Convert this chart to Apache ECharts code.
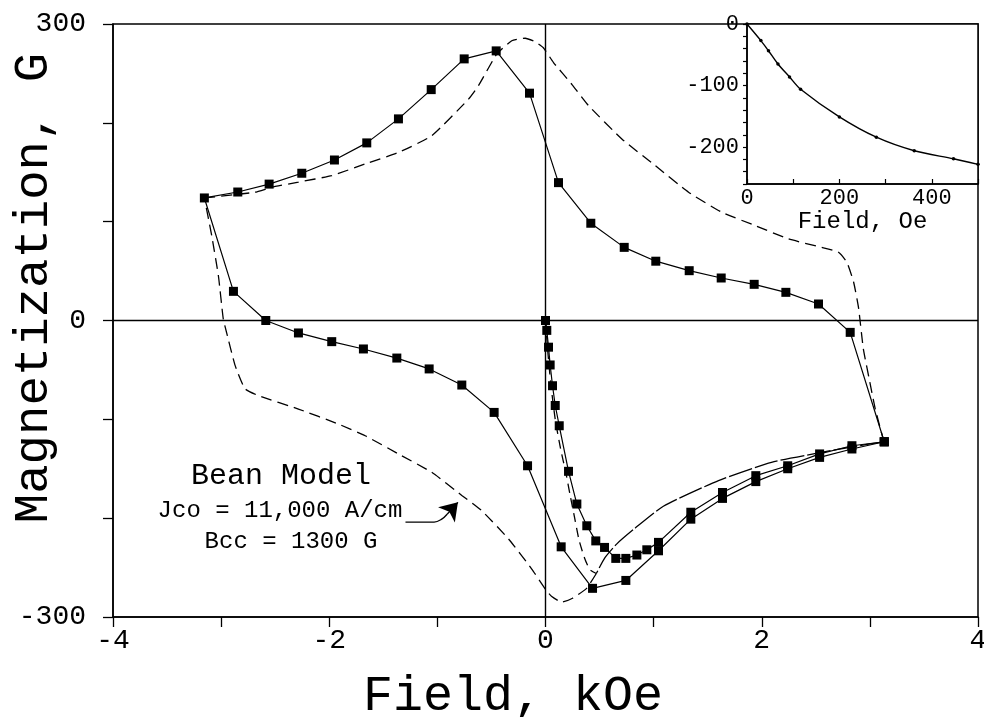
<!DOCTYPE html>
<html>
<head>
<meta charset="utf-8">
<script src="https://cdn.jsdelivr.net/npm/echarts@6/dist/echarts.min.js"></script>
<style>
  html, body { margin: 0; padding: 0; background: #fff; }
  #chart { width: 984px; height: 717px; }
</style>
</head>
<body>
<div id="chart"></div>
<script>
// Hysteresis loop, measured (field in kOe, magnetization in G),
// traversed from +H max down the return branch and back.
const loopField = [3.133, 2.818, 2.525, 2.223, 1.93, 1.625, 1.329, 1.02, 0.728, 0.419, 0.12,
  -0.148, -0.456, -0.752, -1.057, -1.36, -1.653, -1.952, -2.254, -2.556, -2.846, -3.155,
  -2.886, -2.587, -2.285, -1.977, -1.684, -1.375, -1.076, -0.774, -0.475, -0.166,
  0.145, 0.435, 0.743, 1.045, 1.344, 1.637, 1.945, 2.24, 2.535, 2.834, 3.133];
const loopMag = [-122.7, -12, 16.7, 28.5, 36.6, 43, 50.4, 60, 74, 98.4, 139.5,
  230, 272.8, 264.7, 233.6, 204, 179.7, 162.4, 149, 138, 130, 124,
  29.5, 0, -12.6, -21.4, -28.8, -38, -49, -65.3, -93, -147,
  -229, -271, -263, -233, -201, -180, -163, -150, -138.5, -130, -122.7];

// Virgin magnetization curve, measured
const virginField = [0, 0.012, 0.028, 0.043, 0.065, 0.09, 0.127, 0.213, 0.29, 0.382, 0.465, 0.546,
  0.65, 0.743, 0.845, 0.937, 1.045, 1.344, 1.637, 1.945, 2.24, 2.535, 2.834, 3.133];
const virginMag = [0, -10, -27, -45, -66, -86, -106.5, -152.6, -185.7, -207.7, -223, -229.6,
  -240.7, -240.7, -237.3, -232, -224.5, -194, -174, -157, -147, -135, -126.7, -122.7];

// Bean critical-state model, decreasing-field branch
const beanUpperField = [-3.155, -2.686, -2.532, -2.285, -1.977, -1.668, -1.36, -1.052, -0.712, -0.62,
  -0.45, -0.312, -0.188, -0.095, -0.02, 0.074, 0.243, 0.398, 0.706, 1.015, 1.323, 1.631, 1.94,
  2.248, 2.556, 2.71, 2.787, 2.85, 2.895, 2.94, 3.0, 3.05, 3.13];
const beanUpperMag = [124, 129.8, 134.8, 140, 146.6, 158.4, 170, 187, 224, 237.6,
  269.7, 283, 285.6, 282, 276, 261, 239, 217.4, 183.7, 156.7, 129.8, 109.5, 96,
  82.5, 74, 69, 59, 38.7, 13, -29, -62.5, -89.6, -122.7];

// Bean model, increasing-field branch (high-field part)
const beanReturnField = [3.13, 2.83, 2.525, 2.09, 1.6, 1.09, 0.83, 0.66, 0.55, 0.47];
const beanReturnMag = [-122.7, -128, -134, -143.5, -162, -188, -210, -226, -240, -256];

// Bean model, increasing-field branch (low-field part)
const beanLowerField = [0.47, 0.38, 0.25, 0.15, 0.055, 0, -0.127, -0.342, -0.589, -0.774, -1.052,
  -1.36, -1.668, -1.915, -2.285, -2.655, -2.78, -2.87, -2.95, -2.98, -3.025, -3.087, -3.155];
const beanLowerMag = [-256, -271, -281, -285, -279, -272, -251.5, -221, -192.5, -177, -153.6,
  -135, -116.6, -104.8, -89.6, -76, -69, -45.7, -12, 1.5, 45, 85.8, 124];

// Bean model, virgin curve
const beanVirginField = [0, 0.02, 0.05, 0.09, 0.14, 0.19, 0.23, 0.27, 0.31, 0.36, 0.41, 0.47];
const beanVirginMag = [0, -30, -65, -100, -130, -155, -178, -200, -222, -240, -252, -256];

// Low-field initial curve (inset): field in Oe, magnetization in G
const insetField = [0, 30, 46.5, 67, 92, 116, 200, 280, 362, 447, 500];
const insetMag = [0, -27, -43.5, -65, -86, -106, -151, -184, -206, -219, -228];

// Labelled ticks
const fieldTickLabels = [-4, -2, 0, 2, 4];
const magTickLabels = [-300, 0, 300];
const insetFieldTickLabels = [0, 200, 400];
const insetMagTickLabels = [0, -100, -200];

const FONT = '"Liberation Mono", "DejaVu Sans Mono", monospace';
const INK = '#000';
const zip = (xs, ys) => xs.map((x, i) => [x, ys[i]]);
const pick = list => v => (list.indexOf(Math.round(v)) >= 0 ? String(Math.round(v)) : '');

const chart = echarts.init(document.getElementById('chart'), null, { renderer: 'canvas' });

const solid = { color: INK, width: 1.2 };
const dashed = { color: INK, width: 1.3, type: [11, 6] };
const centred = { fill: INK, align: 'center', verticalAlign: 'middle', textAlign: 'center', textVerticalAlign: 'middle' };

const option = {
  animation: false,
  backgroundColor: '#fff',
  grid: [
    { left: 113, right: 6, top: 24, bottom: 100, containLabel: false, outerBoundsMode: 'none',
      show: true, borderColor: INK, borderWidth: 1.5, backgroundColor: 'transparent' },
    { left: 747, right: 6, top: 24, height: 160, containLabel: false, outerBoundsMode: 'none',
      show: true, borderColor: INK, borderWidth: 1.5, backgroundColor: '#fff' }
  ],
  xAxis: [
    {
      gridIndex: 0, type: 'value', min: -4, max: 4, interval: 1,
      axisLine: { onZero: false, lineStyle: { color: INK, width: 1.5 } },
      axisTick: { inside: false, length: 10, lineStyle: { color: INK, width: 1.3 } },
      splitLine: { show: false },
      axisLabel: { formatter: pick(fieldTickLabels), fontFamily: FONT, fontSize: 28, color: INK, margin: 10, showMinLabel: true, showMaxLabel: true }
    },
    {
      gridIndex: 1, type: 'value', min: 0, max: 500, interval: 100,
      axisLine: { onZero: false, lineStyle: { color: INK, width: 1.5 } },
      axisTick: { inside: true, length: 5, lineStyle: { color: INK, width: 1.2 } },
      splitLine: { show: false },
      axisLabel: { formatter: pick(insetFieldTickLabels), fontFamily: FONT, fontSize: 22, color: INK, margin: 3, showMinLabel: true },
      name: 'Field, Oe', nameLocation: 'middle', nameGap: 22,
      nameTextStyle: { fontFamily: FONT, fontSize: 24, color: INK }
    }
  ],
  yAxis: [
    {
      gridIndex: 0, type: 'value', min: -300, max: 300, interval: 100,
      axisLine: { onZero: false, lineStyle: { color: INK, width: 1.5 } },
      axisTick: { inside: false, length: 10, lineStyle: { color: INK, width: 1.3 } },
      splitLine: { show: false },
      axisLabel: { formatter: pick(magTickLabels), fontFamily: FONT, fontSize: 28, color: INK, margin: 27, showMinLabel: true, showMaxLabel: true }
    },
    {
      gridIndex: 1, type: 'value', min: -260, max: 0, interval: 20,
      axisLine: { onZero: false, lineStyle: { color: INK, width: 1.5 } },
      axisTick: { inside: false, length: 4, lineStyle: { color: INK, width: 1.2 } },
      splitLine: { show: false },
      axisLabel: { formatter: pick(insetMagTickLabels), fontFamily: FONT, fontSize: 22, color: INK, margin: 8, showMaxLabel: true }
    }
  ],
  series: [
    {
      name: 'loop', type: 'line', xAxisIndex: 0, yAxisIndex: 0,
      data: zip(loopField, loopMag),
      symbol: 'rect', symbolSize: 9, itemStyle: { color: INK }, lineStyle: solid,
      z: 4,
      markLine: {
        silent: true, symbol: ['none', 'none'],
        label: { show: false },
        lineStyle: { color: INK, width: 1.4, type: 'solid' },
        data: [{ xAxis: 0 }, { yAxis: 0 }]
      }
    },
    {
      name: 'virgin', type: 'line', xAxisIndex: 0, yAxisIndex: 0,
      data: zip(virginField, virginMag),
      symbol: 'rect', symbolSize: 9, itemStyle: { color: INK }, lineStyle: solid, z: 4
    },
    {
      name: 'beanUpper', type: 'line', xAxisIndex: 0, yAxisIndex: 0,
      data: zip(beanUpperField, beanUpperMag), smooth: 0.15,
      symbol: 'none', lineStyle: dashed, z: 3
    },
    {
      name: 'beanReturn', type: 'line', xAxisIndex: 0, yAxisIndex: 0,
      data: zip(beanReturnField, beanReturnMag), smooth: 0.2,
      symbol: 'none', lineStyle: { color: INK, width: 1.3, type: [24, 3] }, z: 3
    },
    {
      name: 'beanLower', type: 'line', xAxisIndex: 0, yAxisIndex: 0,
      data: zip(beanLowerField, beanLowerMag), smooth: 0.15,
      symbol: 'none', lineStyle: dashed, z: 3
    },
    {
      name: 'beanVirgin', type: 'line', xAxisIndex: 0, yAxisIndex: 0,
      data: zip(beanVirginField, beanVirginMag), smooth: 0.2,
      symbol: 'none', lineStyle: { color: INK, width: 1.3, type: [9, 6] }, z: 3
    },
    {
      // leader from the Bean-model caption to the model curve
      name: 'leader', type: 'line', xAxisIndex: 0, yAxisIndex: 0,
      data: [[-1.295, -204], [-1.03, -204], [-0.96, -201], [-0.91, -196]], smooth: 0.4,
      symbol: 'none', lineStyle: { color: INK, width: 1.3 }, z: 3,
      markLine: {
        silent: true, symbol: ['none', 'arrow'], symbolSize: 17,
        label: { show: false },
        lineStyle: { color: INK, width: 1.3, type: 'solid' },
        data: [[{ coord: [-0.91, -196] }, { coord: [-0.81, -184] }]]
      }
    },
    {
      name: 'inset', type: 'line', xAxisIndex: 1, yAxisIndex: 1,
      data: zip(insetField, insetMag), smooth: 0.3,
      symbol: 'circle', symbolSize: 3.5, itemStyle: { color: INK },
      lineStyle: { color: INK, width: 1.4 }, z: 5
    }
  ],
  graphic: [
    { type: 'text', x: 34, y: 288, rotation: Math.PI / 2,
      style: Object.assign({ text: 'Magnetization, G', font: '49px ' + FONT }, centred) },
    { type: 'text', x: 513, y: 697,
      style: Object.assign({ text: 'Field, kOe', font: '50px ' + FONT }, centred) },
    { type: 'text', x: 281, y: 476,
      style: Object.assign({ text: 'Bean Model', font: '30px ' + FONT }, centred) },
    { type: 'text', x: 280, y: 511,
      style: Object.assign({ text: 'Jco = 11,000 A/cm', font: '24px ' + FONT }, centred) },
    { type: 'text', x: 291, y: 542,
      style: Object.assign({ text: 'Bcc = 1300 G', font: '24px ' + FONT }, centred) }
  ]
};

chart.setOption(option);
</script>
</body>
</html>
